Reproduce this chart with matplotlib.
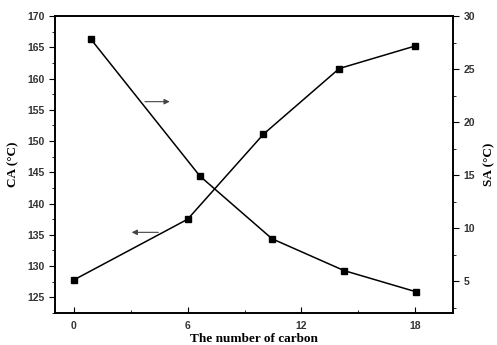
import matplotlib.pyplot as plt
from matplotlib.ticker import MultipleLocator

# data
ca_carbon = [0, 6, 10, 14, 18]
ca_values = [127.8, 137.5, 151.1, 161.6, 165.2]
sa_carbon = [0.9, 6.65, 10.45, 14.25, 18.05]
sa_values = [27.8, 14.9, 9.0, 6.0, 4.0]
x_ticks = [0, 6, 12, 18]

serif = ["Liberation Serif", "DejaVu Serif"]
sans = ["Liberation Sans", "DejaVu Sans"]

fig = plt.figure(figsize=(4.97, 3.45), dpi=100)
ax1 = fig.add_axes([55 / 497, 1 - 313 / 345, 398 / 497, 297 / 345])
ax2 = ax1.twinx()

ax1.plot(ca_carbon, ca_values, color="black", lw=1.1, marker="s", ms=4.5)
ax2.plot(sa_carbon, sa_values, color="black", lw=1.1, marker="s", ms=4.5)

ax1.set_xlim(-1, 20)
ax1.set_ylim(122.5, 170)
ax2.set_ylim(2, 30)

ax1.set_xticks(x_ticks)
ax1.xaxis.set_minor_locator(MultipleLocator(3))
ax1.yaxis.set_major_locator(MultipleLocator(5))
ax1.yaxis.set_minor_locator(MultipleLocator(2.5))
ax2.yaxis.set_major_locator(MultipleLocator(5))
ax2.yaxis.set_minor_locator(MultipleLocator(2.5))

ax1.tick_params(axis="x", which="both", direction="in", pad=6)
ax1.tick_params(axis="x", which="major", length=4)
ax1.tick_params(axis="x", which="minor", length=2.5)
ax1.tick_params(axis="y", which="major", direction="out", length=4)
ax1.tick_params(axis="y", which="minor", direction="out", length=2.5)
ax2.tick_params(axis="y", which="major", direction="out", length=4)
ax2.tick_params(axis="y", which="minor", direction="out", length=2.5)

for ax in (ax1, ax2):
    for lab in ax.get_xticklabels() + ax.get_yticklabels():
        lab.set_family(sans)
        lab.set_fontweight("bold")
        lab.set_fontsize(7.5)
        lab.set_color("#333333")
    for sp in ax.spines.values():
        sp.set_linewidth(1.2)

ax1.set_xlabel("The number of carbon", family=serif, fontweight="bold", fontsize=9.5, labelpad=1)
ax1.set_ylabel("CA (\u00b0C)", family=serif, fontweight="bold", fontsize=9.5, labelpad=6)
ax2.set_ylabel("SA (\u00b0C)", family=serif, fontweight="bold", fontsize=9.5, labelpad=6)

arrow = dict(arrowstyle="-|>", color="#444444", lw=0.8, mutation_scale=8)
ax1.annotate("", xy=(5.2, 156.3), xytext=(3.6, 156.3), arrowprops=arrow)
ax1.annotate("", xy=(2.9, 135.4), xytext=(4.6, 135.4), arrowprops=arrow)

fig.savefig("out.png", dpi=100)
